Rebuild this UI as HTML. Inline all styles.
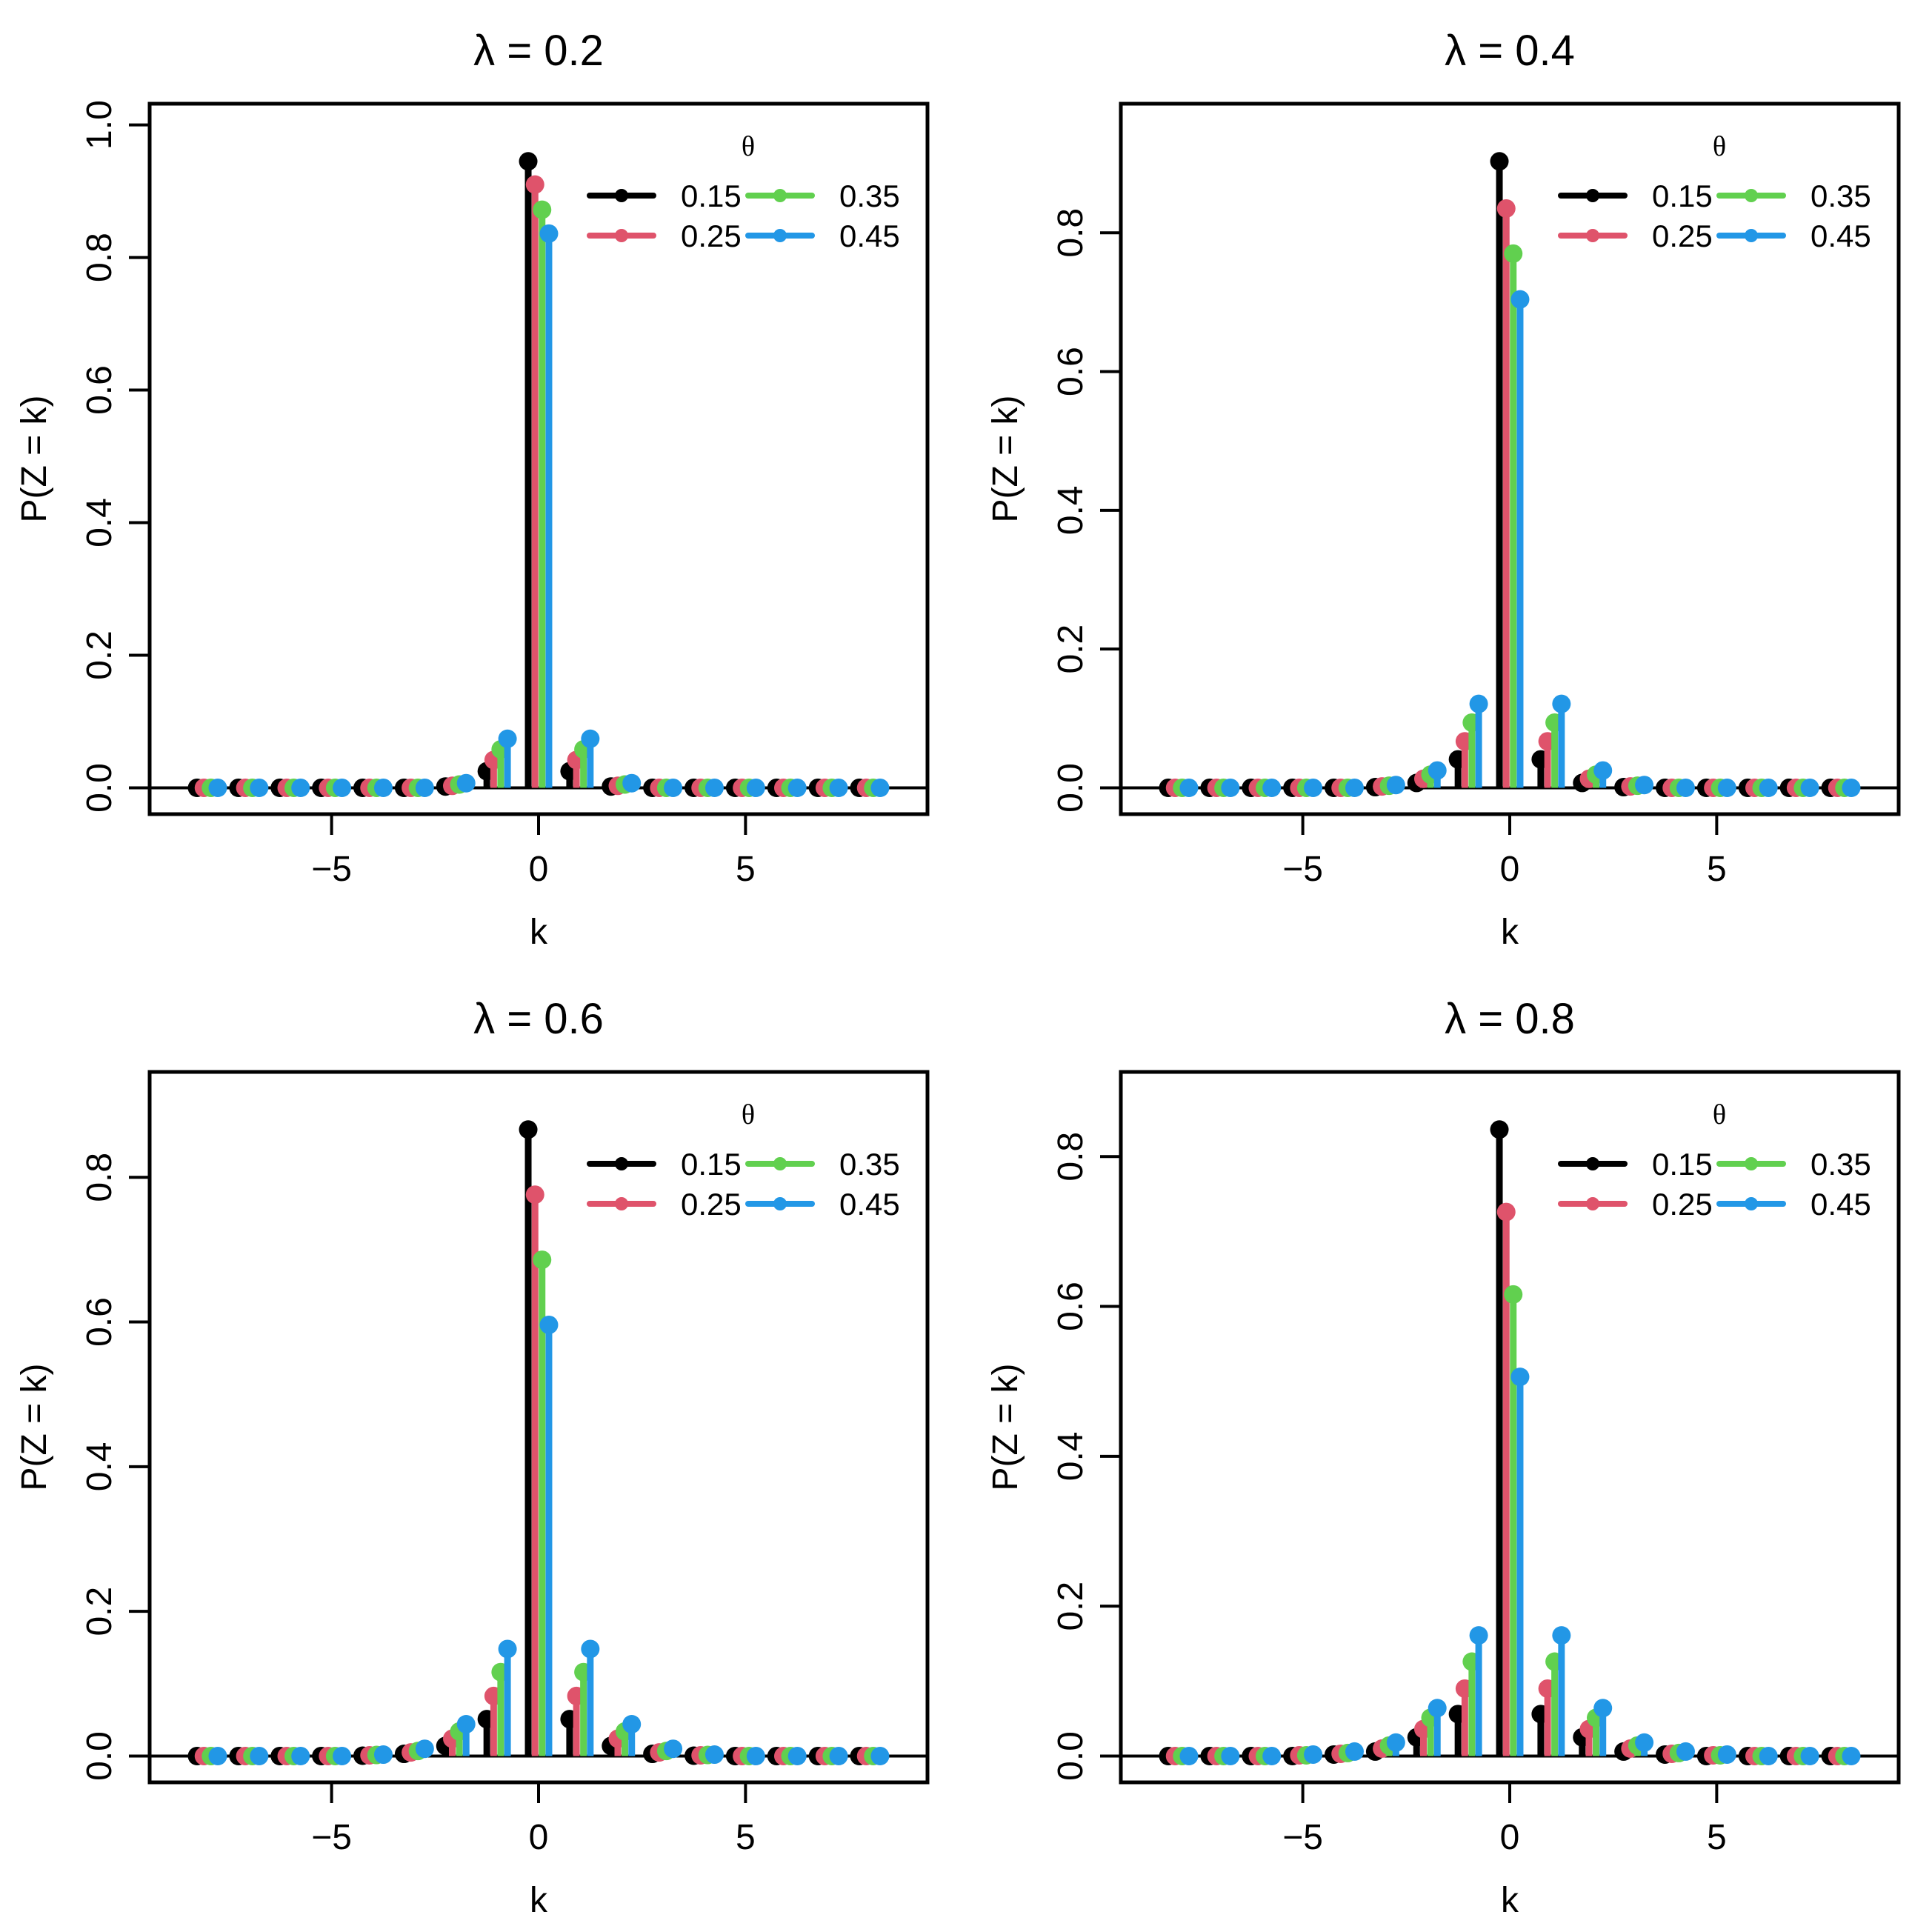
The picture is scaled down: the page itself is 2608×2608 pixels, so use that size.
<!DOCTYPE html>
<html><head><meta charset="utf-8"><style>html,body{margin:0;padding:0;background:#fff}svg{display:block}</style></head>
<body>
<svg id="c" width="2608" height="2608" viewBox="0 0 2608 2608" xmlns="http://www.w3.org/2000/svg" font-family="'Liberation Sans', sans-serif"></svg>
<script>
const ks = [-8,-7,-6,-5,-4,-3,-2,-1,0,1,2,3,4,5,6,7,8];
const thetas = ["0.15","0.25","0.35","0.45"];
const colors = ["#000000","#DF536B","#61D04F","#2297E6"];
const lambdas = ["0.2","0.4","0.6","0.8"];
// values for |k| = 0..8, per lambda, per theta (symmetric in k)
const vals02 = [[0.945,0.025,0.002,0,0,0,0,0,0],[0.910,0.042,0.003,0,0,0,0,0,0],[0.872,0.058,0.005,0,0,0,0,0,0],[0.836,0.074,0.007,0,0,0,0,0,0]];
const vals04 = [[0.903,0.041,0.007,0.001,0,0,0,0,0],[0.835,0.067,0.013,0.002,0,0,0,0,0],[0.770,0.094,0.019,0.003,0,0,0,0,0],[0.704,0.121,0.025,0.004,0,0,0,0,0]];
const vals06 = [[0.866,0.051,0.014,0.003,0.0005,0,0,0,0],[0.776,0.083,0.024,0.005,0.001,0,0,0,0],[0.686,0.116,0.034,0.007,0.0015,0,0,0,0],[0.596,0.148,0.044,0.010,0.002,0,0,0,0]];
const vals08 = [[0.836,0.056,0.025,0.006,0.002,0,0,0,0],[0.726,0.090,0.036,0.010,0.003,0.001,0,0,0],[0.616,0.126,0.051,0.014,0.004,0.001,0,0,0],[0.506,0.161,0.064,0.018,0.006,0.002,0,0,0]];
const allVals = [vals02, vals04, vals06, vals08];
const xTicks = [-5,0,5];
const yTicks = ["0.0","0.2","0.4","0.6","0.8","1.0"];
const offsets = [-0.25,-0.085,0.085,0.25];

const svg = document.getElementById('c');
const NS = "http://www.w3.org/2000/svg";
function mk(tag, attrs, parent){const e=document.createElementNS(NS,tag);for(const k in attrs)e.setAttribute(k,attrs[k]);(parent||svg).appendChild(e);return e;}

const panels = [[202,140],[1513,140],[202,1447],[1513,1447]];
const W = 1050, H = 959;
panels.forEach((p,pi)=>{
  const [L,T] = p;
  const vals = allVals[pi];
  let mx = 0; vals.forEach(s=>s.forEach(v=>{if(v>mx)mx=v;}));
  const ymax = mx*1.05;
  const xmin=-8.7, xmax=8.7;
  const xs = v => L + W*((v - xmin)/(xmax-xmin)*(1/1.08) + 0.04/1.08);
  const ys = v => T + H - H*((v/ymax)*(1/1.08) + 0.04/1.08);
  const g = mk('g',{});
  
  
  const title = mk('text',{x:L+W/2,y:T-52,'text-anchor':'middle','font-size':58,fill:'#000'},g);
  title.textContent = 'λ = '+lambdas[pi];
  
  
  const zl = mk('line',{x1:L,x2:L+W,y1:ys(0),y2:ys(0),stroke:'#000','stroke-width':4},g);
  
  
  vals.forEach((s,si)=>{
    const sg = mk('g',{},g);
    
    
    ks.forEach(k=>{
      const v = s[Math.abs(k)];
      const x = xs(k+offsets[si]);
      const st = mk('line',{x1:x,x2:x,y1:ys(0),y2:ys(v),stroke:colors[si],'stroke-width':9},sg);
      
      
      const c = mk('circle',{cx:x,cy:ys(v),r:12.5,fill:colors[si]},sg);
      
      
    });
  });
  const bx = mk('rect',{x:L,y:T,width:W,height:H,fill:'none',stroke:'#000','stroke-width':5},g);
  
  
  xTicks.forEach(t=>{
    const x = xs(t);
    const tl = mk('line',{x1:x,x2:x,y1:T+H,y2:T+H+28,stroke:'#000','stroke-width':4},g);
    
    
    const tx = mk('text',{x:x,y:T+H+90,'text-anchor':'middle','font-size':48},g);
    tx.textContent = t<0 ? '−'+Math.abs(t) : String(t);
    
    
  });
  const xl = mk('text',{x:L+W/2,y:T+H+175,'text-anchor':'middle','font-size':48},g);
  xl.textContent='k';
  
  
  yTicks.forEach(t=>{
    const v=parseFloat(t); const y = ys(v);
    if(y < T) return;
    const tl = mk('line',{x1:L-28,x2:L,y1:y,y2:y,stroke:'#000','stroke-width':4},g);
    
    
    const tx = mk('text',{x:L-52,y:y,'text-anchor':'middle','font-size':48,transform:`rotate(-90 ${L-52} ${y})`},g);
    tx.textContent=t;
    
    
  });
  const yx=L-140, yy=T+H/2;
  const yl = mk('text',{x:yx,y:yy,'text-anchor':'middle','font-size':48,transform:`rotate(-90 ${yx} ${yy})`},g);
  yl.textContent='P(Z = k)';
  
  
  const lg = mk('g',{},g);
  
  
  const th = mk('text',{x:L+808,y:T+70,'text-anchor':'middle','font-size':38,'font-family':"'Liberation Serif', serif"},lg);
  th.textContent='θ';
  
  
  thetas.forEach((t,i)=>{
    const col = Math.floor(i/2), row=i%2;
    const lx = L+594+col*214, ly=T+124+row*54;
    const e = mk('g',{},lg);
    
    
    mk('line',{x1:lx,x2:lx+86,y1:ly,y2:ly,stroke:colors[i],'stroke-width':8,'stroke-linecap':'round'},e);
    mk('circle',{cx:lx+43,cy:ly,r:9,fill:colors[i]},e);
    const tx = mk('text',{x:lx+123,y:ly+15,'font-size':42},e);
    tx.textContent=t;
  });
});
</script>
</body></html>
